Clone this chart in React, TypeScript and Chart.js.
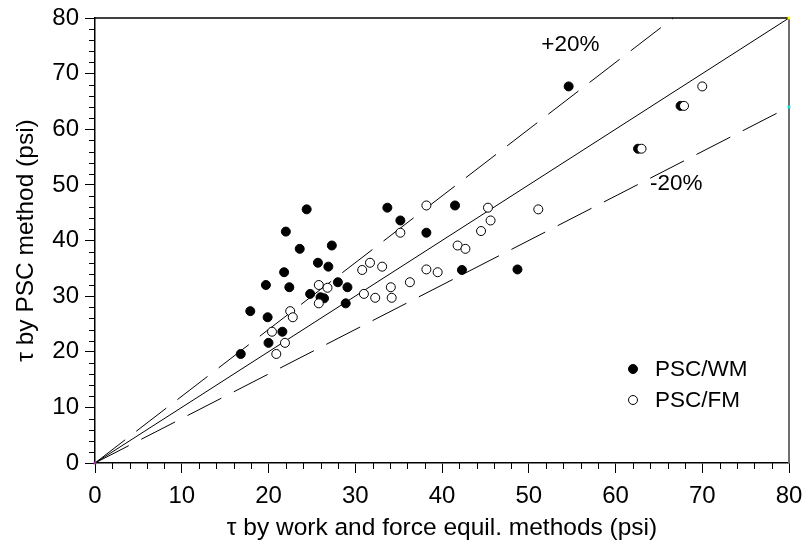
import React, { useEffect, useRef } from "react";
import { Chart, registerables } from "chart.js";
Chart.register(...registerables);

// PSC/WM (filled circles)
const wmX = [16.8, 17.9, 19.7, 19.9, 20.0, 21.6, 21.8, 22.0, 22.4, 23.6, 24.4, 24.8, 25.7, 26.0, 26.4, 26.9, 27.3, 28.0, 28.9, 29.1, 33.7, 35.2, 38.2, 41.5, 42.3, 48.7, 54.6, 62.6, 67.5];
const wmY = [19.6, 27.3, 32.0, 26.2, 21.6, 23.6, 34.3, 41.6, 31.6, 38.5, 45.6, 30.4, 36.0, 29.8, 29.6, 35.3, 39.1, 32.5, 28.7, 31.6, 45.9, 43.6, 41.4, 46.3, 34.7, 34.8, 67.7, 56.5, 64.2];
// PSC/FM (open circles)
const fmX = [20.4, 20.9, 21.9, 22.5, 22.8, 25.8, 26.8, 25.8, 30.8, 31.7, 33.1, 31.0, 32.3, 34.1, 34.2, 35.2, 36.3, 38.2, 38.2, 39.5, 41.8, 42.7, 44.5, 45.3, 45.6, 51.1, 63.0, 67.9, 70.0];
const fmY = [23.6, 19.6, 21.6, 27.3, 26.2, 32.0, 31.5, 28.7, 34.7, 36.0, 35.3, 30.4, 29.7, 31.6, 29.7, 41.4, 32.5, 46.3, 34.8, 34.3, 39.1, 38.5, 41.7, 45.9, 43.6, 45.6, 56.5, 64.2, 67.7];

// reference lines: equality, +20%, -20%
const eqLineX = [0, 80];
const eqLineY = [0, 80];
const plusLineX = [0, 66.67];
const plusLineY = [0, 80];
const minusLineX = [0, 80];
const minusLineY = [0, 64];

// end markers of lines
const markerX = [0, 80, 80];
const markerY = [0, 80, 64];
const markerColors = ["#9b2f9b", "#ffff00", "#00e5ee"];

// annotation labels (data coords of text centre)
const annoText = ["+20%", "-20%"];
const annoX = [54.8, 67.0];
const annoY = [75.1, 50.2];

const legendLabels = ["PSC/WM", "PSC/FM"];

const axisMin = 0;
const axisMax = 80;
const majorStep = 10;
const minorStep = 2;

const FONT = "'Liberation Sans', Arial, Helvetica, sans-serif";

const pts = (xs: number[], ys: number[]) => xs.map((x, i) => ({ x, y: ys[i] }));

export default function App() {
  const ref = useRef<HTMLCanvasElement | null>(null);
  useEffect(() => {
    document.body.style.margin = "0";
    const canvas = ref.current!;
    const decor = {
      id: "decor",
      beforeDatasetsDraw(chart: any) {
        const { ctx, chartArea: ca, scales } = chart;
        const xs = scales.x, ys = scales.y;
        ctx.save();
        ctx.strokeStyle = "#000";
        ctx.lineWidth = 1.5;
        ctx.beginPath();
        ctx.moveTo(ca.left, ca.top);
        ctx.lineTo(ca.right, ca.top);
        ctx.stroke();
        ctx.strokeStyle = "#6e6e6e";
        ctx.lineWidth = 2;
        ctx.beginPath();
        ctx.moveTo(ca.right, ca.top);
        ctx.lineTo(ca.right, ca.bottom);
        ctx.stroke();
        ctx.strokeStyle = "#000";
        ctx.lineWidth = 1;
        for (let v = axisMin; v <= axisMax; v += minorStep) {
          if (v % majorStep === 0) continue;
          const px = Math.round(xs.getPixelForValue(v)) + 0.5;
          ctx.beginPath();
          ctx.moveTo(px, ca.bottom);
          ctx.lineTo(px, ca.bottom + 6);
          ctx.stroke();
          const py = Math.round(ys.getPixelForValue(v)) + 0.5;
          ctx.beginPath();
          ctx.moveTo(ca.left, py);
          ctx.lineTo(ca.left - 6, py);
          ctx.stroke();
        }
        ctx.restore();
      },
      afterDraw(chart: any) {
        const { ctx, chartArea: ca, scales } = chart;
        const xs = scales.x, ys = scales.y;
        ctx.save();
        ctx.fillStyle = "#000";
        ctx.font = `22.5px ${FONT}`;
        ctx.textAlign = "center";
        ctx.textBaseline = "middle";
        annoText.forEach((t, i) => {
          ctx.fillText(t, xs.getPixelForValue(annoX[i]), ys.getPixelForValue(annoY[i]));
        });
        // legend
        const lx = ca.right - 156;
        const ly0 = ca.bottom - 94;
        const gap = 31;
        legendLabels.forEach((t, i) => {
          const ly = ly0 + i * gap;
          ctx.beginPath();
          ctx.arc(lx, ly, 4.5, 0, Math.PI * 2);
          ctx.fillStyle = i === 0 ? "#000" : "#fff";
          ctx.fill();
          ctx.lineWidth = 1;
          ctx.strokeStyle = "#000";
          ctx.stroke();
          ctx.fillStyle = "#000";
          ctx.textAlign = "left";
          ctx.fillText(t, lx + 22, ly + 1);
        });
        ctx.restore();
      },
    };

    const chart = new Chart(canvas, {
      type: "scatter",
      data: {
        datasets: [
          {
            label: "markers",
            data: pts(markerX, markerY),
            pointStyle: "rect",
            pointRadius: 2,
            pointBackgroundColor: markerColors,
            pointBorderColor: markerColors,
            borderWidth: 0,
            order: 0,
            clip: false as any,
          },
          {
            label: legendLabels[1],
            data: pts(fmX, fmY),
            pointRadius: 4.5,
            pointBackgroundColor: "#fff",
            pointBorderColor: "#000",
            pointBorderWidth: 1,
            order: 1,
          },
          {
            label: legendLabels[0],
            data: pts(wmX, wmY),
            pointRadius: 4.5,
            pointBackgroundColor: "#000",
            pointBorderColor: "#000",
            pointBorderWidth: 1,
            order: 2,
          },
          {
            type: "line",
            label: "eq",
            data: pts(eqLineX, eqLineY),
            borderColor: "#000",
            borderWidth: 1,
            pointRadius: 0,
            showLine: true,
            order: 3,
          } as any,
          {
            type: "line",
            label: "+20",
            data: pts(plusLineX, plusLineY),
            borderColor: "#000",
            borderWidth: 1,
            borderDash: [38, 14],
            pointRadius: 0,
            showLine: true,
            order: 3,
          } as any,
          {
            type: "line",
            label: "-20",
            data: pts(minusLineX, minusLineY),
            borderColor: "#000",
            borderWidth: 1,
            borderDash: [38, 14],
            pointRadius: 0,
            showLine: true,
            order: 3,
          } as any,
        ],
      },
      options: {
        responsive: false,
        animation: false,
        layout: { padding: { left: 0, right: 15, top: 18, bottom: 0 } },
        plugins: { legend: { display: false }, tooltip: { enabled: false } },
        scales: {
          x: {
            type: "linear",
            min: axisMin,
            max: axisMax,
            afterFit: (s: any) => { s.height = 87; s.paddingLeft = 0; s.paddingRight = 0; },
            ticks: { stepSize: majorStep, padding: 9, color: "#000", font: { size: 24, family: FONT } },
            grid: { drawOnChartArea: false, drawTicks: true, tickLength: 10, tickColor: "#000", tickWidth: 1 },
            border: { color: "#000", width: 1.5 },
            title: {
              display: true,
              text: "τ by work and force equil. methods (psi)",
              color: "#000",
              font: { size: 24.5, family: FONT },
              padding: { top: 0, bottom: 7 },
            },
          },
          y: {
            type: "linear",
            min: axisMin,
            max: axisMax,
            afterFit: (s: any) => { s.width = 95; s.paddingTop = 0; s.paddingBottom = 0; },
            ticks: { stepSize: majorStep, padding: 6, color: "#000", font: { size: 24, family: FONT } },
            grid: { drawOnChartArea: false, drawTicks: true, tickLength: 10, tickColor: "#000", tickWidth: 1 },
            border: { color: "#000", width: 1.5 },
            title: {
              display: true,
              text: "τ by PSC method (psi)",
              color: "#000",
              font: { size: 24.5, family: FONT },
              padding: { top: 12, bottom: 0 },
            },
          },
        },
      },
      plugins: [decor],
    } as any);
    return () => chart.destroy();
  }, []);
  return (
    <div style={{ width: 804, height: 550, position: "relative" }}>
      <canvas ref={ref} width={804} height={550} style={{ display: "block" }} />
    </div>
  );
}
